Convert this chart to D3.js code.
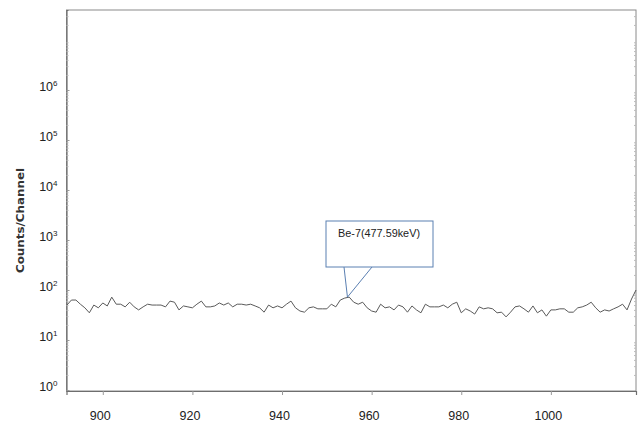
<!DOCTYPE html>
<html>
<head>
<meta charset="utf-8">
<script src="https://cdn.jsdelivr.net/npm/d3@7/dist/d3.min.js"></script>
<style>
  html, body { margin: 0; padding: 0; background: #fff; }
  svg { display: block; }
</style>
</head>
<body>
<svg id="chart" width="643" height="425"></svg>
<script>
// Gamma spectrum around the Be-7 line: channel numbers and counts per channel
const firstChannel = 892;
const counts = [
  50, 63, 63, 52, 44, 35, 50, 44, 55, 48,
  72, 52, 52, 46, 57, 46, 40, 46, 52, 50,
  50, 50, 46, 60, 57, 40, 48, 46, 44, 52,
  60, 46, 46, 48, 55, 50, 55, 46, 52, 52,
  50, 52, 48, 44, 36, 50, 44, 48, 44, 52,
  60, 44, 38, 36, 44, 46, 42, 42, 42, 52,
  46, 63, 69, 72, 57, 52, 57, 44, 38, 36,
  52, 44, 46, 40, 50, 46, 36, 48, 40, 35,
  52, 46, 46, 46, 50, 44, 52, 57, 35, 42,
  38, 33, 46, 42, 44, 42, 35, 36, 29, 36,
  46, 48, 42, 36, 48, 35, 40, 30, 40, 40,
  42, 42, 36, 36, 44, 46, 50, 57, 44, 36,
  40, 38, 42, 46, 52, 40, 66, 100
];
const channels = counts.map((_, i) => firstChannel + i);

const xTicks = [900, 920, 940, 960, 980, 1000];
const yExponents = [0, 1, 2, 3, 4, 5, 6];

// Peak annotation
const peakLabel = "Be-7(477.59keV)";
const peakChannel = 954.6;
const peakCount = 72;

const margin = { left: 66.5, right: 7, top: 10, bottom: 34 };
const W = 643, H = 425;
const svg = d3.select("#chart");

const x = d3.scaleLinear()
  .domain([891.9, 1019])
  .range([margin.left, W - margin.right]);
const y = d3.scaleLog()
  .domain([Math.pow(10, -0.02), Math.pow(10, 7.6)])
  .range([H - margin.bottom, margin.top]);

const axisColor = "#6e6e6e";
const fontFam = "'Liberation Sans', Arial, sans-serif";

// Plot frame
svg.append("rect")
  .attr("x", x.range()[0]).attr("y", y.range()[1])
  .attr("width", x.range()[1] - x.range()[0])
  .attr("height", y.range()[0] - y.range()[1])
  .attr("fill", "none").attr("stroke", "#8a8a8a").attr("stroke-width", 1);

// Bottom axis
const xAxis = svg.append("g")
  .attr("transform", `translate(0,${y.range()[0]})`)
  .call(d3.axisBottom(x).tickValues(xTicks).tickSize(4).tickFormat(d3.format("d")));
xAxis.select(".domain").attr("stroke", axisColor).attr("stroke-width", 1.2);
xAxis.selectAll(".tick line").attr("stroke", "#999");
xAxis.selectAll(".tick text")
  .attr("y", 20).attr("dx", -3)
  .attr("font-family", fontFam).attr("font-size", 12.5).attr("fill", "#222");

// Left axis: decades with minor ticks pointing inward
const minorVals = [];
for (let e = 0; e < 8; e++) {
  for (let m = 2; m <= 9; m++) {
    const v = m * Math.pow(10, e);
    if (v <= y.domain()[1]) minorVals.push(v);
  }
}
const yAxis = svg.append("g")
  .attr("transform", `translate(${x.range()[0]},0)`)
  .call(d3.axisRight(y).tickValues(minorVals).tickSize(2).tickFormat(""));
yAxis.select(".domain").attr("stroke", axisColor).attr("stroke-width", 1.2);
yAxis.selectAll(".tick line").attr("stroke", "#bbb");

svg.append("g")
  .attr("transform", `translate(${x.range()[0]},0)`)
  .call(d3.axisRight(y).tickValues(yExponents.map(e => Math.pow(10, e))).tickSize(3).tickFormat(""))
  .call(g => g.select(".domain").remove())
  .selectAll(".tick line").attr("stroke", "#999");

// Right side minor ticks
svg.append("g")
  .attr("transform", `translate(${x.range()[1]},0)`)
  .call(d3.axisLeft(y).tickValues(minorVals).tickSize(2).tickFormat(""))
  .call(g => g.select(".domain").remove())
  .selectAll(".tick line").attr("stroke", "#bbb");

// Decade labels 10^n
const yLab = svg.append("g");
yExponents.forEach(e => {
  const t = yLab.append("text")
    .attr("x", x.range()[0] - 9)
    .attr("y", y(Math.pow(10, e)) + 0.5)
    .attr("text-anchor", "end")
    .attr("font-family", fontFam).attr("font-size", 12.5).attr("fill", "#222");
  t.append("tspan").text("10");
  t.append("tspan").attr("dy", -5).attr("font-size", 8).text(e);
});

// Axis title
svg.append("text")
  .attr("transform", `translate(24,${(168 + 273) / 2}) rotate(-90)`)
  .attr("text-anchor", "middle")
  .attr("font-family", "'DejaVu Sans', Verdana, sans-serif")
  .attr("font-weight", "bold").attr("font-size", 11).attr("fill", "#333")
  .attr("textLength", 105).attr("lengthAdjust", "spacingAndGlyphs")
  .text("Counts/Channel");

// Spectrum trace
const line = d3.line()
  .x((d, i) => x(channels[i]))
  .y(d => y(d));
svg.append("path")
  .datum(counts)
  .attr("d", line)
  .attr("fill", "none")
  .attr("stroke", "#5a5a5a")
  .attr("stroke-width", 1)
  .attr("stroke-linejoin", "round");

// Callout for the Be-7 peak
const tipX = x(peakChannel), tipY = y(peakCount);
const box = { x: 326, y: 221, w: 107, h: 46 };
const calloutColor = "#5b80b2";
svg.append("path")
  .attr("d", `M${box.x + 18},${box.y + box.h} L${tipX},${tipY} L${box.x + 46},${box.y + box.h}`)
  .attr("fill", "none").attr("stroke", calloutColor).attr("stroke-width", 1);
svg.append("rect")
  .attr("x", box.x).attr("y", box.y).attr("width", box.w).attr("height", box.h)
  .attr("fill", "#fff").attr("stroke", calloutColor).attr("stroke-width", 1);
svg.append("text")
  .attr("x", 379).attr("y", box.y + 16)
  .attr("text-anchor", "middle")
  .attr("font-family", fontFam).attr("font-size", 11.5).attr("fill", "#222")
  .attr("textLength", 82).attr("lengthAdjust", "spacingAndGlyphs")
  .text(peakLabel);
</script>
</body>
</html>
